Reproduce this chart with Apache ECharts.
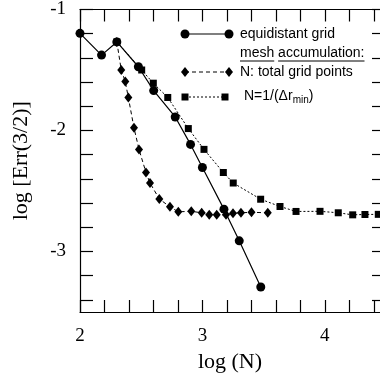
<!DOCTYPE html>
<html>
<head>
<meta charset="utf-8">
<script src="https://cdn.jsdelivr.net/npm/echarts@6/dist/echarts.min.js"></script>
<style>
  html, body { margin: 0; padding: 0; background: #fff; overflow: hidden; }
  #chart { width: 380px; height: 378px; }
</style>
</head>
<body>
<div id="chart"></div>
<script>
// log(N) / log Err for the three runs
const equiX = [2.0, 2.176, 2.301, 2.477, 2.602, 2.778, 2.903, 3.0, 3.176, 3.301, 3.477];
const equiY = [-1.197, -1.377, -1.268, -1.473, -1.670, -1.888, -2.115, -2.306, -2.650, -2.912, -3.293];

const totalX = [2.301, 2.337, 2.370, 2.395, 2.441, 2.482, 2.539, 2.572, 2.648, 2.735, 2.803, 2.909, 2.994, 3.056, 3.117, 3.193, 3.250, 3.315, 3.401, 3.534];
const totalY = [-1.268, -1.500, -1.596, -1.727, -1.978, -2.156, -2.347, -2.434, -2.566, -2.631, -2.672, -2.668, -2.680, -2.697, -2.697, -2.697, -2.684, -2.680, -2.676, -2.680];

const drminX = [2.301, 2.504, 2.599, 2.717, 2.885, 3.013, 3.171, 3.252, 3.476, 3.634, 3.765, 3.961, 4.110, 4.228, 4.328, 4.437];
const drminY = [-1.268, -1.500, -1.609, -1.727, -1.984, -2.156, -2.347, -2.434, -2.568, -2.628, -2.669, -2.668, -2.680, -2.697, -2.694, -2.693];

const xTickLabels = [2, 3, 4];
const yTickLabels = [-3, -2, -1];

const zip = (xs, ys) => xs.map((x, i) => [x, ys[i]]);

// minor ticks every 0.2
const xTicks = [];
for (let i = 0; i <= 12; i++) xTicks.push(+(2 + i * 0.2).toFixed(1));
const yTicks = [];
for (let i = 0; i <= 12; i++) yTicks.push(+(-3.4 + i * 0.2).toFixed(1));

const serif = 'Liberation Serif';
const sans = 'Liberation Sans';

const chart = echarts.init(document.getElementById('chart'), null, { renderer: 'canvas' });

// the original figure is cropped on the right, axis runs past the edge
const xMax = 4.451;

const axisCommon = {
  type: 'value',
  axisLine: { show: true, onZero: false, lineStyle: { color: '#000', width: 1.2 } },
  splitLine: { show: false },
  minorTick: { show: false }
};

// legend, drawn by hand (markers at both ends)
const ctx = document.createElement('canvas').getContext('2d');
ctx.font = '14px "' + sans + '"';
const wMesh = ctx.measureText('mesh').width;
const wSp = ctx.measureText('mesh ').width;
const wAll = ctx.measureText('mesh accumulation:').width;

const lx0 = 185, lx1 = 229, tx = 240;
const dia = (cx, cy) => ({
  type: 'polygon', shape: { points: [[cx, cy - 5], [cx + 4, cy], [cx, cy + 5], [cx - 4, cy]] },
  style: { fill: '#000' }
});
const graphic = [
  { type: 'line', shape: { x1: lx0, y1: 34, x2: lx1, y2: 34 }, style: { stroke: '#000', lineWidth: 1.2 } },
  { type: 'circle', shape: { cx: lx0, cy: 34, r: 4.5 }, style: { fill: '#000' } },
  { type: 'circle', shape: { cx: lx1, cy: 34, r: 4.5 }, style: { fill: '#000' } },
  { type: 'text', x: tx, y: 34, style: { text: 'equidistant grid', font: '14px "' + sans + '"', fill: '#000', verticalAlign: 'middle' } },

  { type: 'text', x: tx, y: 53, style: { text: 'mesh accumulation:', font: '14px "' + sans + '"', fill: '#000', verticalAlign: 'middle' } },
  { type: 'line', shape: { x1: tx, y1: 61, x2: tx + wMesh, y2: 61 }, style: { stroke: '#000', lineWidth: 1 } },
  { type: 'line', shape: { x1: tx + wSp, y1: 61, x2: tx + wAll, y2: 61 }, style: { stroke: '#000', lineWidth: 1 } },

  { type: 'line', shape: { x1: lx0, y1: 72, x2: lx1, y2: 72 }, style: { stroke: '#000', lineWidth: 1, lineDash: [4, 3] } },
  dia(lx0, 72), dia(lx1, 72),
  { type: 'text', x: tx, y: 72, style: { text: 'N: total grid points', font: '14px "' + sans + '"', fill: '#000', verticalAlign: 'middle' } },

  { type: 'line', shape: { x1: lx0, y1: 97, x2: 225, y2: 97 }, style: { stroke: '#000', lineWidth: 1, lineDash: [2, 2] } },
  { type: 'rect', shape: { x: lx0 - 3.5, y: 93.5, width: 7, height: 7 }, style: { fill: '#000' } },
  { type: 'rect', shape: { x: 225 - 3.5, y: 93.5, width: 7, height: 7 }, style: { fill: '#000' } },
  {
    type: 'text', x: 244, y: 96,
    style: {
      text: '{a|N=1/(Δr}{s|min}{a|)}',
      fill: '#000', verticalAlign: 'middle',
      rich: {
        a: { fontFamily: sans, fontSize: 14, fill: '#000' },
        s: { fontFamily: sans, fontSize: 10, fill: '#000', padding: [8, 0, 0, 0] }
      }
    }
  }
];

// only integer decades get a label
const labelOf = (list) => (v) => (list.some((t) => Math.abs(t - v) < 1e-6) ? String(Math.round(v)) : '');

const option = {
  animation: false,
  backgroundColor: '#fff',
  grid: { left: 80, top: 9, right: 0, bottom: 64, containLabel: false },
  xAxis: [
    Object.assign({}, axisCommon, {
      position: 'bottom', min: 2, max: xMax, interval: 0.5,
      axisTick: { show: true, inside: true, length: 12, customValues: xTicks, lineStyle: { color: '#000', width: 1.2 } },
      axisLabel: {
        show: true, margin: 15, showMaxLabel: false,
        fontFamily: serif, fontSize: 19, color: '#000',
        formatter: labelOf(xTickLabels)
      },
      name: 'log (N)', nameLocation: 'middle', nameGap: 39,
      nameTextStyle: { fontFamily: serif, fontSize: 22, color: '#000' }
    }),
    Object.assign({}, axisCommon, {
      position: 'top', min: 2, max: xMax,
      axisTick: { show: true, inside: true, length: 12, customValues: xTicks, lineStyle: { color: '#000', width: 1.2 } },
      axisLabel: { show: false }
    })
  ],
  yAxis: [
    Object.assign({}, axisCommon, {
      position: 'left', min: -3.5, max: -1, interval: 0.5,
      axisTick: { show: true, inside: true, length: 13, customValues: yTicks, lineStyle: { color: '#000', width: 1.2 } },
      axisLabel: {
        show: true, margin: 14,
        fontFamily: serif, fontSize: 19, color: '#000',
        formatter: labelOf(yTickLabels)
      },
      name: 'log [Err(3/2)]', nameLocation: 'middle', nameGap: 48, nameRotate: 90,
      nameTextStyle: { fontFamily: serif, fontSize: 22, color: '#000' }
    }),
    Object.assign({}, axisCommon, {
      position: 'right', min: -3.5, max: -1,
      axisLine: { show: false },
      axisTick: { show: true, inside: true, length: 8, customValues: yTicks, lineStyle: { color: '#000', width: 1.2 } },
      axisLabel: { show: false }
    })
  ],
  series: [
    {
      name: 'N=1/(Δr_min)', type: 'line', data: zip(drminX, drminY),
      symbol: 'rect', symbolSize: 7, showAllSymbol: true,
      lineStyle: { color: '#000', width: 1, type: [2, 2] },
      itemStyle: { color: '#000' }
    },
    {
      name: 'N: total grid points', type: 'line', data: zip(totalX, totalY),
      symbol: 'diamond', symbolSize: [8, 10], showAllSymbol: true,
      lineStyle: { color: '#000', width: 1, type: [4, 3] },
      itemStyle: { color: '#000' }
    },
    {
      name: 'equidistant grid', type: 'line', data: zip(equiX, equiY),
      symbol: 'circle', symbolSize: 9, showAllSymbol: true,
      lineStyle: { color: '#000', width: 1.2 },
      itemStyle: { color: '#000' }
    }
  ],
  graphic: graphic
};

chart.setOption(option);
</script>
</body>
</html>
